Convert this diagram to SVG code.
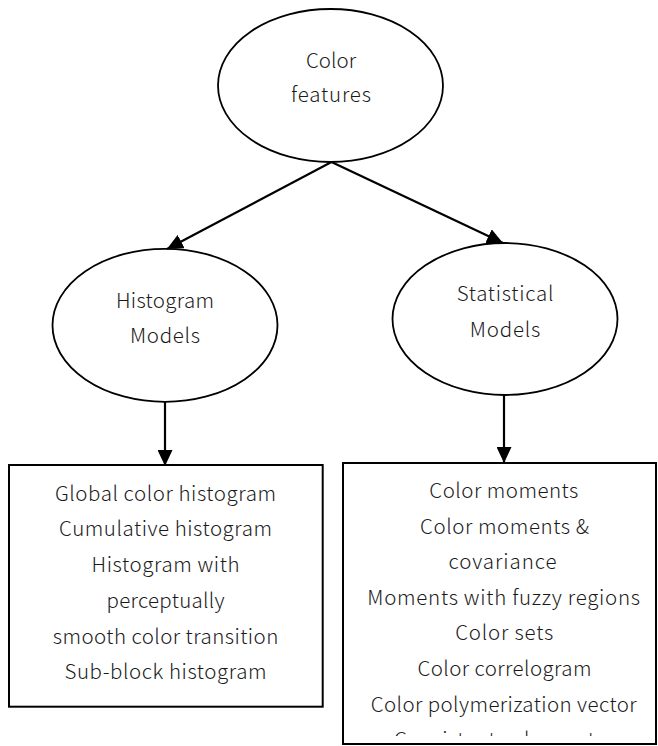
<svg xmlns="http://www.w3.org/2000/svg" width="658" height="746" viewBox="0 0 658 746">
<style>
  .node ellipse { fill: #ffffff; stroke: #000000; stroke-width: 1.8; }
  .node rect { fill: #ffffff; stroke: #000000; stroke-width: 2; }
  text { font-family: "Noto Sans CJK JP", "Noto Sans", "Liberation Sans", sans-serif; font-size: 20.5px; font-weight: 300; fill: #1a1a1a; text-anchor: middle; }
  .conn line { stroke: #000000; stroke-width: 2.2; fill: none; marker-end: url(#ah); }
</style>
<defs>
  <marker id="ah" viewBox="0 0 16 15" refX="16" refY="7.5" markerWidth="16" markerHeight="15" markerUnits="userSpaceOnUse" orient="auto">
    <path d="M0,0 L16,7.5 L0,15 Z" fill="#000000"/>
  </marker>
  <clipPath id="clipR">
    <rect x="344" y="464" width="311" height="272"/>
  </clipPath>
</defs>
<rect x="0" y="0" width="658" height="746" fill="#ffffff"/>

<g id="color-features" class="node">
  <ellipse cx="330.5" cy="85.5" rx="112.5" ry="76.5"/>
  <text x="331" y="68" textLength="50">Color</text>
  <text x="331" y="102" textLength="80">features</text>
</g>

<g id="histogram-models" class="node">
  <ellipse cx="165" cy="325.3" rx="112.5" ry="76.5"/>
  <text x="165" y="308" textLength="98">Histogram</text>
  <text x="165" y="343" textLength="70">Models</text>
</g>

<g id="statistical-models" class="node">
  <ellipse cx="505" cy="319" rx="112.5" ry="76"/>
  <text x="505" y="300.7" textLength="96.7">Statistical</text>
  <text x="505" y="337" textLength="70.7">Models</text>
</g>

<g id="histogram-list" class="node">
  <rect x="9" y="465" width="313.7" height="241.7"/>
  <text x="165.5" y="500.7" textLength="221">Global color histogram</text>
  <text x="165.5" y="536.4" textLength="213">Cumulative histogram</text>
  <text x="165.5" y="572.1" textLength="148">Histogram with</text>
  <text x="165.5" y="607.8" textLength="118">perceptually</text>
  <text x="165.5" y="643.5" textLength="225.6">smooth color transition</text>
  <text x="165.5" y="679.2" textLength="202">Sub-block histogram</text>
</g>

<g id="statistical-list" class="node">
  <rect x="343" y="463" width="313" height="281"/>
  <g clip-path="url(#clipR)">
    <text x="503.8" y="498" textLength="149">Color moments</text>
    <text x="504.5" y="533.6" textLength="169">Color moments &amp;</text>
    <text x="502.5" y="569.2" textLength="108">covariance</text>
    <text x="503.7" y="604.8" textLength="272.7">Moments with fuzzy regions</text>
    <text x="504.2" y="640.4" textLength="98">Color sets</text>
    <text x="504.5" y="676" textLength="174">Color correlogram</text>
    <text x="503.7" y="711.6" textLength="266">Color polymerization vector</text>
    <text x="504.5" y="747.2" textLength="221">Consistent color vector</text>
  </g>
</g>

<g id="connectors" class="conn">
  <line x1="331.5" y1="162" x2="167" y2="249"/>
  <line x1="331.5" y1="162" x2="503" y2="243"/>
  <line x1="165" y1="402" x2="165" y2="466"/>
  <line x1="504" y1="395" x2="504" y2="463"/>
</g>
</svg>
